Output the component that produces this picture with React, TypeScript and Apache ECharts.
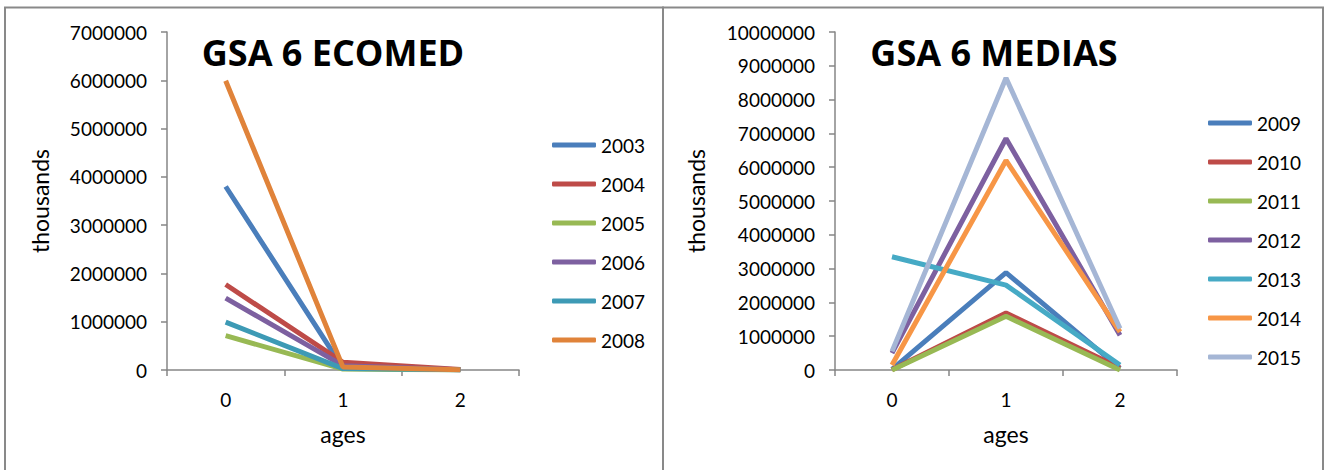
import React, { useEffect, useRef } from "react";
import * as echarts from "echarts";

const ages = ["0", "1", "2"];

// GSA 6 ECOMED
const ecomedYears = ["2003", "2004", "2005", "2006", "2007", "2008"];
const e2003 = [3800000, 40000, 5000];
const e2004 = [1770000, 160000, 10000];
const e2005 = [710000, 20000, 2000];
const e2006 = [1490000, 90000, 5000];
const e2007 = [990000, 30000, 3000];
const e2008 = [5990000, 60000, 5000];
const ecomedValues = [e2003, e2004, e2005, e2006, e2007, e2008];
const ecomedColors = ["#4A7EBB", "#BE4B48", "#98B954", "#7D60A0", "#3D9AB5", "#E0833A"];

// GSA 6 MEDIAS
const mediasYears = ["2009", "2010", "2011", "2012", "2013", "2014", "2015"];
const m2009 = [20000, 2880000, 50000];
const m2010 = [10000, 1690000, 60000];
const m2011 = [0, 1590000, 0];
const m2012 = [500000, 6850000, 1030000];
const m2013 = [3350000, 2510000, 150000];
const m2014 = [150000, 6200000, 1130000];
const m2015 = [550000, 8640000, 1230000];
const mediasValues = [m2009, m2010, m2011, m2012, m2013, m2014, m2015];
const mediasColors = ["#4A7EBB", "#BE4B48", "#98B954", "#7D60A0", "#46AAC5", "#F79646", "#A5B6D5"];

const FONT = "Lato, 'Open Sans', sans-serif";
const AXIS_COLOR = "#868686";

function makeX(gridIndex: number) {
  return {
    type: "category",
    gridIndex,
    data: ages,
    boundaryGap: true,
    name: "ages",
    nameLocation: "middle",
    nameGap: 52,
    nameTextStyle: { fontFamily: FONT, fontSize: 23, color: "#000" },
    axisLine: { lineStyle: { color: AXIS_COLOR, width: 1.5 } },
    axisTick: { show: true, length: 6, lineStyle: { color: AXIS_COLOR, width: 1.5 } },
    axisLabel: { fontFamily: FONT, fontSize: 19, color: "#000", margin: 20 },
    splitLine: { show: false },
  };
}

function makeY(gridIndex: number, max: number, nameGap: number) {
  return {
    type: "value",
    gridIndex,
    min: 0,
    max,
    interval: 1000000,
    name: "thousands",
    nameLocation: "middle",
    nameGap,
    nameTextStyle: { fontFamily: FONT, fontSize: 23, color: "#000" },
    axisLine: { show: true, lineStyle: { color: AXIS_COLOR, width: 1.5 } },
    axisTick: { show: true, length: 6, lineStyle: { color: AXIS_COLOR, width: 1.5 } },
    axisLabel: {
      fontFamily: FONT,
      fontSize: 19,
      color: "#000",
      margin: 20,
      formatter: (v: number) => String(v),
    },
    splitLine: { show: false },
  };
}

export default function App() {
  const ref = useRef<HTMLDivElement>(null);
  useEffect(() => {
    document.body.style.margin = "0";
    const chart = echarts.init(ref.current!, undefined, { renderer: "svg" });
    const series: any[] = [];
    ecomedYears.forEach((y, i) => {
      series.push({
        name: y,
        type: "line",
        xAxisIndex: 0,
        yAxisIndex: 0,
        data: ecomedValues[i],
        symbol: "none",
        lineStyle: { width: 5, color: ecomedColors[i] },
        itemStyle: { color: ecomedColors[i] },
      });
    });
    mediasYears.forEach((y, i) => {
      series.push({
        name: y,
        type: "line",
        xAxisIndex: 1,
        yAxisIndex: 1,
        data: mediasValues[i],
        symbol: "none",
        lineStyle: { width: 5, color: mediasColors[i] },
        itemStyle: { color: mediasColors[i] },
      });
    });
    const legendCommon = {
      orient: "vertical",
      icon: "roundRect",
      itemWidth: 44,
      itemHeight: 5,
      itemGap: 19,
      padding: 0,
      textStyle: { fontFamily: FONT, fontSize: 19, color: "#000", lineHeight: 20 },
    };
    chart.setOption({
      animation: false,
      backgroundColor: "#fff",
      grid: [
        { left: 167, top: 32, width: 352, height: 338 },
        { left: 835, top: 32, width: 342, height: 338 },
      ],
      xAxis: [makeX(0), makeX(1)],
      yAxis: [makeY(0, 7000000, 116), makeY(1, 10000000, 128)],
      legend: [
        { ...legendCommon, left: 552, top: 135, data: ecomedYears },
        { ...legendCommon, left: 1208, top: 113, data: mediasYears },
      ],
      graphic: [
        {
          type: "rect",
          shape: { x: 5, y: 7.5, width: 658, height: 480 },
          style: { fill: "none", stroke: "#898989", lineWidth: 2 },
          silent: true,
        },
        {
          type: "rect",
          shape: { x: 663, y: 7.5, width: 660, height: 480 },
          style: { fill: "none", stroke: "#898989", lineWidth: 2 },
          silent: true,
        },
        {
          type: "text",
          x: 333,
          y: 52,
          style: {
            text: "GSA 6 ECOMED",
            fontFamily: "'Open Sans', Lato, sans-serif",
            fontWeight: "bold",
            fontSize: 36,
            fill: "#000",
            textAlign: "center",
            textVerticalAlign: "middle",
          },
        },
        {
          type: "text",
          x: 994,
          y: 52,
          style: {
            text: "GSA 6 MEDIAS",
            fontFamily: "'Open Sans', Lato, sans-serif",
            fontWeight: "bold",
            fontSize: 36,
            fill: "#000",
            textAlign: "center",
            textVerticalAlign: "middle",
          },
        },
      ],
      series,
    });
    return () => chart.dispose();
  }, []);
  return <div ref={ref} style={{ width: 1332, height: 470 }} />;
}
